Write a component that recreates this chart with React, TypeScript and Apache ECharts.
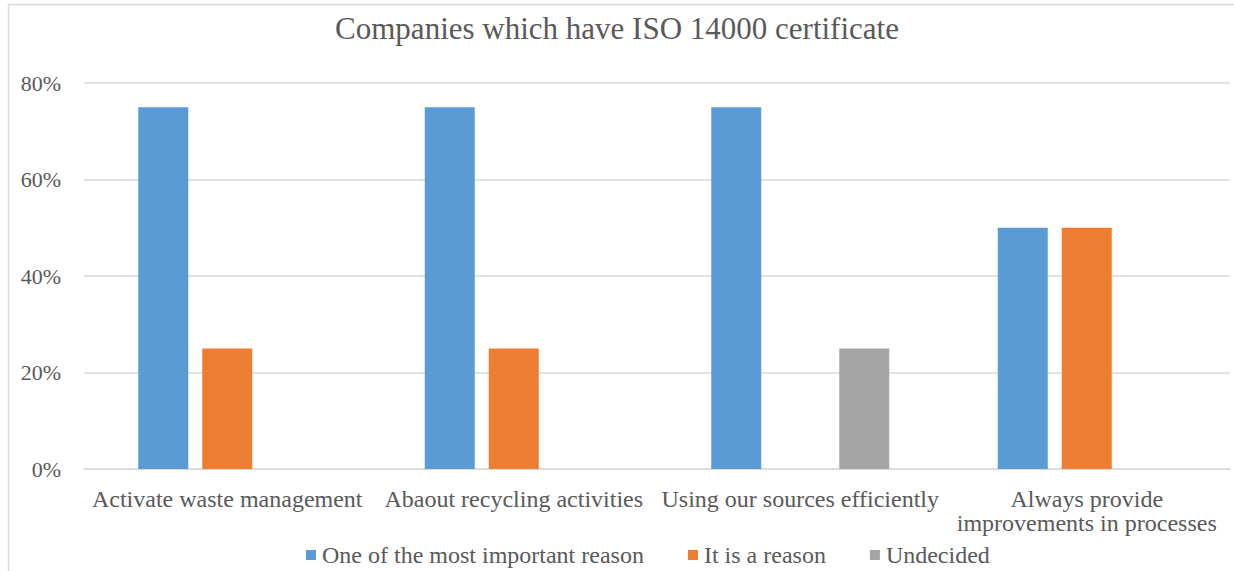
import React, { useEffect, useRef } from "react";
import * as echarts from "echarts";

const categories = [
  "Activate waste management",
  "Abaout recycling activities",
  "Using our sources efficiently",
  "Always provide\nimprovements in processes",
];
const seriesNames = ["One of the most important reason", "It is a reason", "Undecided"];
const mostImportant = [75, 75, 75, 50];
const isReason = [25, 25, 0, 50];
const undecided = [0, 0, 25, 0];
const yTicks = { min: 0, max: 80, interval: 20 };
const colors = ["#5b9bd5", "#ed7d31", "#a5a5a5"];

const FONT = "'Liberation Serif', 'Times New Roman', serif";
const TEXT = "#595959";

export default function App() {
  const ref = useRef<HTMLDivElement>(null);
  useEffect(() => {
    if (!ref.current) return;
    const chart = echarts.init(ref.current, undefined, { renderer: "svg" });
    const values = [mostImportant, isReason, undecided];
    chart.setOption({
      animation: false,
      backgroundColor: "#ffffff",
      textStyle: { fontFamily: FONT, color: TEXT },
      title: {
        text: "Companies which have ISO 14000 certificate",
        left: "center",
        top: 8,
        textStyle: { fontFamily: FONT, fontSize: 31, fontWeight: "normal", color: TEXT },
      },
      graphic: [
        {
          type: "rect",
          shape: { x: 8.5, y: 4.5, width: 1300, height: 700 },
          style: { fill: "none", stroke: "#d9d9d9", lineWidth: 1.5 },
          silent: true,
        },
      ],
      legend: {
        data: seriesNames,
        left: 301,
        top: 538,
        itemWidth: 10,
        itemHeight: 10,
        itemGap: 44,
        icon: "rect",
        textStyle: { fontFamily: FONT, fontSize: 24, color: TEXT, padding: [0, 0, 0, 1] },
      },
      grid: { left: 84, right: 4, top: 83, bottom: 102 },
      xAxis: {
        type: "category",
        data: categories,
        axisLine: { lineStyle: { color: "#d9d9d9", width: 1.5 } },
        axisTick: { show: false },
        axisLabel: {
          fontFamily: FONT,
          fontSize: 24,
          color: TEXT,
          margin: 18,
          lineHeight: 24,
          interval: 0,
        },
      },
      yAxis: {
        type: "value",
        min: yTicks.min,
        max: yTicks.max,
        interval: yTicks.interval,
        axisLine: { show: false },
        axisTick: { show: false },
        splitLine: { lineStyle: { color: "#d9d9d9", width: 1.5 } },
        axisLabel: {
          formatter: "{value}%",
          fontFamily: FONT,
          fontSize: 22,
          color: TEXT,
          margin: 23,
        },
      },
      series: seriesNames.map((name, i) => ({
        name,
        type: "bar",
        data: values[i],
        barWidth: 50,
        barGap: "28%",
        itemStyle: { color: colors[i] },
      })),
    });
    return () => chart.dispose();
  }, []);
  return (
    <div
      ref={ref}
      style={{ position: "fixed", left: 0, top: 0, width: 1234, height: 571 }}
    />
  );
}
